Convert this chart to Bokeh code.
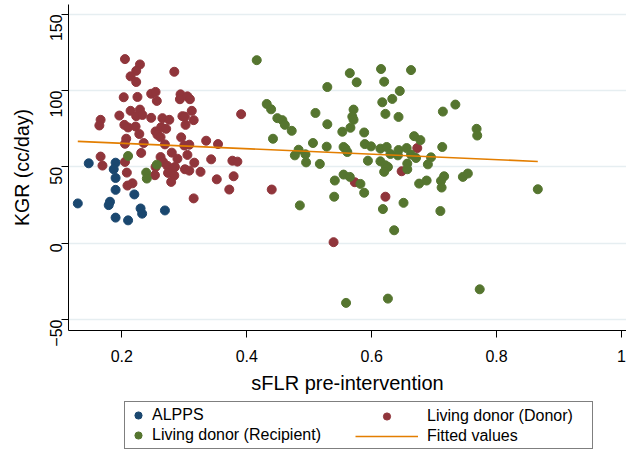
import math
from bokeh.plotting import figure
from bokeh.layouts import column
from bokeh.models import Legend, LegendItem, FixedTicker, Range1d
from bokeh.embed import file_html
from bokeh.resources import INLINE

# ---------------- data ----------------
alpps_x = [0.1295, 0.147, 0.190, 0.187, 0.190, 0.190, 0.220, 0.181, 0.179,
           0.230, 0.2325, 0.190, 0.210, 0.269]
alpps_y = [26.1, 52.4, 52.8, 48.5, 42.8, 35.0, 32.0, 27.2, 25.0,
           22.8, 19.4, 16.8, 15.0, 21.5]

donor_x = [0.205, 0.229, 0.223, 0.214, 0.223, 0.284, 0.203, 0.225, 0.247, 0.254,
           0.256, 0.294, 0.293, 0.305, 0.309, 0.214, 0.229, 0.196, 0.223, 0.233,
           0.247, 0.265, 0.276, 0.297, 0.301, 0.312, 0.315, 0.166, 0.164, 0.204,
           0.210, 0.222, 0.263, 0.271, 0.302, 0.254, 0.257, 0.228, 0.262, 0.207,
           0.205, 0.235, 0.269, 0.295, 0.300, 0.308, 0.335, 0.354, 0.391, 0.166,
           0.169, 0.205, 0.231, 0.262, 0.266, 0.280, 0.289, 0.305, 0.316, 0.343,
           0.377, 0.385, 0.254, 0.273, 0.281, 0.285, 0.301, 0.308, 0.326, 0.208,
           0.253, 0.274, 0.284, 0.352, 0.379, 0.279, 0.217, 0.209, 0.372, 0.315,
           0.440, 0.573, 0.622, 0.648, 0.673, 0.539]
donor_y = [120.7, 117.2, 113.0, 109.4, 105.7, 112.4, 95.7, 95.9, 98.0, 99.2,
           93.3, 97.6, 94.4, 96.3, 94.4, 86.8, 87.6, 83.7, 83.3, 84.1,
           82.2, 82.0, 80.9, 83.3, 83.0, 86.8, 80.7, 80.9, 77.2, 77.6,
           75.9, 76.5, 76.1, 75.0, 77.6, 73.3, 71.1, 71.6, 69.6, 68.5,
           65.2, 65.7, 64.8, 69.4, 64.1, 64.6, 67.2, 65.0, 84.6, 56.8,
           50.9, 53.3, 59.2, 56.5, 53.3, 59.4, 55.4, 57.9, 52.8, 55.0,
           54.1, 53.5, 50.0, 50.7, 48.9, 50.0, 48.5, 47.6, 46.8, 46.3,
           44.6, 46.1, 44.4, 41.9, 43.9, 40.2, 39.3, 37.8, 35.2, 29.4,
           35.2, 40.0, 30.5, 47.2, 62.4, 0.7]

recip_x = [0.416, 0.210, 0.256, 0.239, 0.240, 0.565, 0.576, 0.529, 0.615, 0.663,
           0.620, 0.645, 0.633, 0.617, 0.622, 0.643, 0.432, 0.439, 0.449, 0.457,
           0.461, 0.472, 0.510, 0.529, 0.571, 0.569, 0.571, 0.566, 0.553, 0.588,
           0.442, 0.506, 0.528, 0.483, 0.477, 0.494, 0.495, 0.517, 0.555, 0.558,
           0.561, 0.589, 0.599, 0.614, 0.624, 0.630, 0.642, 0.643, 0.656, 0.663,
           0.668, 0.678, 0.671, 0.695, 0.594, 0.614, 0.622, 0.626, 0.620, 0.657,
           0.657, 0.690, 0.555, 0.565, 0.541, 0.582, 0.588, 0.540, 0.485, 0.676,
           0.688, 0.651, 0.618, 0.636, 0.734, 0.714, 0.768, 0.769, 0.713, 0.716,
           0.711, 0.712, 0.746, 0.754, 0.866, 0.710, 0.559, 0.626, 0.773]
recip_y = [120.0, 57.2, 51.5, 46.3, 42.4, 111.5, 105.5, 102.4, 114.2, 113.5,
           105.9, 99.8, 94.6, 92.4, 84.8, 82.8, 91.3, 87.8, 82.0, 80.7,
           77.6, 73.7, 85.4, 78.0, 87.6, 83.0, 80.9, 75.7, 73.1, 72.6,
           68.5, 65.7, 63.3, 61.3, 57.6, 58.3, 53.0, 52.0, 63.1, 62.0,
           59.8, 65.0, 63.5, 62.0, 63.1, 58.5, 57.6, 61.1, 62.4, 58.1,
           70.2, 67.6, 55.9, 56.3, 54.1, 53.7, 51.1, 50.0, 46.8, 52.2,
           48.5, 51.7, 45.0, 43.5, 41.1, 38.9, 33.1, 30.5, 24.8, 39.1,
           41.1, 26.5, 22.4, 8.5, 90.9, 86.3, 75.0, 70.6, 63.1, 43.9,
           40.9, 36.5, 43.5, 45.7, 35.4, 21.1, -39.1, -36.3, -30.2]

fit_x = [0.1295, 0.866]
fit_y = [66.8, 53.6]

x_ticks = [0.2, 0.4, 0.6, 0.8, 1.0]
x_tick_labels = ["0.2", "0.4", "0.6", "0.8", "1"]
y_ticks = [-50, 0, 50, 100, 150]
y_tick_labels = ["\u221250", "0", "50", "100", "150"]

NAVY = "#1a476f"
MAROON = "#90353b"
GREEN = "#55752f"
ORANGE = "#e37e00"
FONT = "Liberation Sans"

# ---------------- main plot ----------------
p = figure(width=626, height=398, output_backend="svg", toolbar_location=None,
           x_range=Range1d(0.1146, 1.008), y_range=Range1d(-57.2, 156.5),
           min_border_left=68, min_border_right=0, min_border_top=4,
           min_border_bottom=68)
p.outline_line_color = None
p.background_fill_color = "white"
p.border_fill_color = "white"

r_alpps = p.scatter(alpps_x, alpps_y, size=9, fill_color=NAVY, line_color=NAVY)
r_donor = p.scatter(donor_x, donor_y, size=9, fill_color=MAROON, line_color=MAROON)
r_recip = p.scatter(recip_x, recip_y, size=9, fill_color=GREEN, line_color=GREEN)
r_fit = p.line(fit_x, fit_y, line_color=ORANGE, line_width=1.6)

p.xgrid.visible = False
p.ygrid.grid_line_color = "#e6eef1"
p.ygrid.grid_line_width = 1.5

for ax in (p.xaxis[0], p.yaxis[0]):
    ax.axis_line_color = "black"
    ax.axis_line_width = 1
    ax.major_tick_line_color = "black"
    ax.major_tick_in = 0
    ax.major_tick_out = 7
    ax.minor_tick_line_color = None
    ax.major_label_text_font = FONT
    ax.major_label_text_font_size = "16px"
    ax.major_label_text_color = "black"
    ax.axis_label_text_font = FONT
    ax.axis_label_text_font_size = "20px"
    ax.axis_label_text_font_style = "normal"
    ax.axis_label_text_color = "black"

p.xaxis.ticker = FixedTicker(ticks=x_ticks)
p.xaxis.major_label_overrides = dict(zip(x_ticks, x_tick_labels))
p.xaxis.axis_label = "sFLR pre-intervention"
p.xaxis.major_label_standoff = 12
p.xaxis.axis_label_standoff = 7

p.yaxis.ticker = FixedTicker(ticks=y_ticks)
p.yaxis.major_label_overrides = dict(zip(y_ticks, y_tick_labels))
p.yaxis.axis_label = "KGR (cc/day)"
p.yaxis.axis_label_text_font_size = "19.5px"
p.yaxis.major_label_orientation = math.pi / 2
p.yaxis.major_label_standoff = 5
p.yaxis.axis_label_standoff = 9

# ---------------- legend strip (same horizontal borders as main plot) ----------------
lg = figure(width=626, height=52, output_backend="svg", toolbar_location=None,
            x_range=Range1d(0, 1), y_range=Range1d(0, 1),
            min_border_left=68, min_border_right=0, min_border_top=0,
            min_border_bottom=0, x_axis_location=None, y_axis_location=None)
lg.grid.visible = False
lg.outline_line_color = None
lg.background_fill_color = "white"
lg.border_fill_color = "white"

# legend keys reuse the same series, hidden in this strip
k_alpps = lg.scatter(alpps_x, alpps_y, size=9, fill_color=NAVY, line_color=NAVY, visible=False)
k_donor = lg.scatter(donor_x, donor_y, size=9, fill_color=MAROON, line_color=MAROON, visible=False)
k_recip = lg.scatter(recip_x, recip_y, size=9, fill_color=GREEN, line_color=GREEN, visible=False)
k_fit = lg.line(fit_x, fit_y, line_color=ORANGE, line_width=1.6, visible=False)

common = dict(label_text_font=FONT, label_text_font_size="16px",
              label_text_color="black", glyph_height=18, spacing=2,
              padding=4, margin=0, inactive_fill_alpha=0.0)

legA = Legend(items=[LegendItem(label="ALPPS", renderers=[k_alpps]),
                     LegendItem(label="Living donor (Recipient)", renderers=[k_recip])],
              location=(56, 1), glyph_width=18, label_standoff=5, label_width=436,
              border_line_color="black", border_line_width=1,
              background_fill_color="white", background_fill_alpha=1.0, **common)
legB = Legend(items=[LegendItem(label="Living donor (Donor)", renderers=[k_donor]),
                     LegendItem(label="Fitted values", renderers=[k_fit])],
              location=(283, 1), glyph_width=63, label_standoff=9,
              border_line_alpha=0, background_fill_alpha=0, **common)
lg.add_layout(legA)
lg.add_layout(legB)

layout = column(p, lg, spacing=0)
open("out.html", "w").write(file_html(layout, INLINE))
